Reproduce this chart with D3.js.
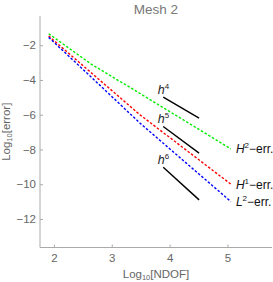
<!DOCTYPE html>
<html>
<head>
<meta charset="utf-8">
<script src="https://cdn.jsdelivr.net/npm/d3@7"></script>
<style>
  body { margin: 0; background: #fff; }
  svg { display: block; font-family: "Liberation Sans", Arial, sans-serif; }
  .tick text { fill: #666; font-size: 11.5px; }
  .axis path, .axis line { stroke: #aaa; }
</style>
</head>
<body>
<div id="chart"></div>
<script>
// log10 of NDOF at each refinement
const logNdof = [1.91, 2.65, 3.49, 5.06];
// log10 of the errors
const h2Err = [-1.34, -3.10, -4.78, -7.97];
const h1Err = [-1.47, -3.60, -6.01, -10.0];
const l2Err = [-1.55, -3.85, -6.49, -11.0];

const seriesNames = ['H2', 'H1', 'L2'];
const seriesColors = ['#00ee00', '#ff0000', '#0000ff'];

// reference slopes h^4, h^5, h^6
const refOrders = [4, 5, 6];
const refX = [3.89, 4.51];
const refY0 = [-4.99, -6.68, -9.02];
const refY1 = [-6.20, -8.21, -10.90];

const xTicks = [2, 3, 4, 5];
const yTicks = [-2, -4, -6, -8, -10, -12];

const W = 273, H = 282;
const margin = { top: 16, right: 1, bottom: 34.5, left: 40 };

const svg = d3.select('#chart').append('svg')
  .attr('width', W)
  .attr('height', H);

const x = d3.scaleLinear()
  .domain([1.76, 5.77])
  .range([margin.left, W - margin.right]);
const y = d3.scaleLinear()
  .domain([-13.64, -0.32])
  .range([H - margin.bottom, margin.top]);

// axes
const xAxis = svg.append('g')
  .attr('class', 'axis')
  .attr('transform', `translate(0,${H - margin.bottom})`)
  .call(d3.axisTop(x).tickValues(xTicks).tickSize(3).tickSizeOuter(0).tickFormat(d3.format('d')));
xAxis.selectAll('.tick text')
  .attr('y', 6)
  .attr('dy', '0.71em');

const fmtMinus = d => (d < 0 ? '\u2212' + Math.abs(d) : d);
const yAxis = svg.append('g')
  .attr('class', 'axis')
  .attr('transform', `translate(${margin.left},0)`)
  .call(d3.axisRight(y).tickValues(yTicks).tickSize(3).tickSizeOuter(0).tickFormat(fmtMinus));
yAxis.selectAll('.tick text')
  .attr('x', -4)
  .attr('text-anchor', 'end');
yAxis.select('.domain').attr('d', `M0,${H - margin.bottom}V${margin.top}`);
xAxis.select('.domain').attr('d', `M${margin.left},0H${W - margin.right}`);

// error curves
const line = d3.line()
  .x(d => x(d[0]))
  .y(d => y(d[1]));

const series = [h2Err, h1Err, l2Err].map((vals, i) => ({
  name: seriesNames[i],
  color: seriesColors[i],
  pts: logNdof.map((n, j) => [n, vals[j]])
}));

svg.append('g').selectAll('path')
  .data(series)
  .enter()
  .append('path')
  .attr('d', d => line(d.pts))
  .attr('fill', 'none')
  .attr('stroke', d => d.color)
  .attr('stroke-width', 1.4)
  .attr('stroke-dasharray', '2.5,1.8');

// labels at line ends
const endLabels = [
  { base: 'H', sup: '2' },
  { base: 'H', sup: '1' },
  { base: 'L', sup: '2' }
];
const lab = svg.append('g').selectAll('text')
  .data(series)
  .enter()
  .append('text')
  .attr('x', d => x(d.pts[d.pts.length - 1][0]) + 5)
  .attr('y', d => y(d.pts[d.pts.length - 1][1]) + 4.5)
  .attr('font-size', 12)
  .attr('fill', '#111');
lab.append('tspan').attr('font-style', 'italic').text((d, i) => endLabels[i].base);
lab.append('tspan').attr('font-size', 8).attr('dy', -5).text((d, i) => endLabels[i].sup);
lab.append('tspan').attr('dy', 5).text('\u2212err.');

// reference slope segments
const refs = refOrders.map((o, i) => ({ order: o, y0: refY0[i], y1: refY1[i] }));
svg.append('g').selectAll('line')
  .data(refs)
  .enter()
  .append('line')
  .attr('x1', x(refX[0]))
  .attr('x2', x(refX[1]))
  .attr('y1', d => y(d.y0))
  .attr('y2', d => y(d.y1))
  .attr('stroke', '#000')
  .attr('stroke-width', 1.4);

const hLab = svg.append('g').selectAll('text')
  .data(refs)
  .enter()
  .append('text')
  .attr('x', x(refX[0]) - 5.5)
  .attr('y', d => y(d.y0) - 3.5)
  .attr('font-size', 12.5)
  .attr('fill', '#222');
hLab.append('tspan').attr('font-style', 'italic').text('h');
hLab.append('tspan').attr('font-size', 8).attr('dy', -5).text(d => d.order);

// title
svg.append('text')
  .attr('x', (margin.left + W - margin.right) / 2)
  .attr('y', 14)
  .attr('text-anchor', 'middle')
  .attr('font-size', 13.5)
  .attr('fill', '#777')
  .text('Mesh 2');

// axis titles
const xt = svg.append('text')
  .attr('x', (margin.left + W - margin.right) / 2)
  .attr('y', 278)
  .attr('text-anchor', 'middle')
  .attr('font-size', 11.5)
  .attr('fill', '#666');
xt.append('tspan').text('Log');
xt.append('tspan').attr('font-size', 7.5).attr('dy', 2).text('10');
xt.append('tspan').attr('dy', -2).text('[NDOF]');

const yt = svg.append('text')
  .attr('transform', `translate(10,${(margin.top + H - margin.bottom) / 2}) rotate(-90)`)
  .attr('text-anchor', 'middle')
  .attr('font-size', 11.5)
  .attr('fill', '#666');
yt.append('tspan').text('Log');
yt.append('tspan').attr('font-size', 7.5).attr('dy', 2).text('10');
yt.append('tspan').attr('dy', -2).text('[error]');
</script>
</body>
</html>
